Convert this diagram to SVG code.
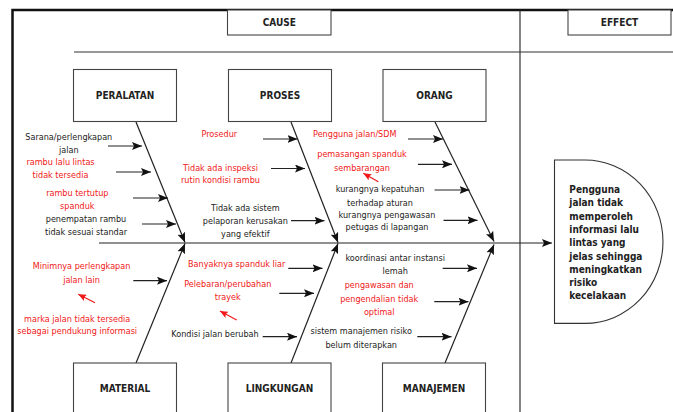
<svg xmlns="http://www.w3.org/2000/svg" width="673" height="412" viewBox="0 0 673 412">
<style>
text{font-family:"DejaVu Sans Condensed","DejaVu Sans",sans-serif}
.t{font-size:9px;fill:#222;text-anchor:middle}
.r{font-size:9px;fill:#f01818;text-anchor:middle}
.h{font-size:10px;font-weight:bold;fill:#222;text-anchor:middle}
.e{font-size:10px;font-weight:bold;fill:#222}
.box{fill:#fff;stroke:#444;stroke-width:1.1}
.ln{stroke:#333;stroke-width:1.2;fill:none}
.ar{stroke:#222;stroke-width:1.2;fill:none;marker-end:url(#ah)}
.ra{stroke:#f01818;stroke-width:1.2;fill:none;marker-end:url(#rh)}
</style>
<defs>
<marker id="ah" markerUnits="userSpaceOnUse" markerWidth="10" markerHeight="8" refX="10" refY="4" orient="auto">
<path d="M0,0 L10,4 L0,8 L2,4 z" fill="#111"/>
</marker>
<marker id="rh" markerUnits="userSpaceOnUse" markerWidth="8" markerHeight="7" refX="8" refY="3.5" orient="auto">
<path d="M0,0 L8,3.5 L0,7 L1.5,3.5 z" fill="#f01818"/>
</marker>
</defs>
<rect width="673" height="412" fill="#fff"/>
<g id="frame">
<path d="M12.5,412 L12.5,10 L673,10" fill="none" stroke="#111" stroke-width="2.5"/>
<line x1="520" y1="10" x2="520" y2="412" class="ln"/>
<line x1="74" y1="52" x2="673" y2="52" class="ln"/>
</g>
<g id="cause"><rect x="227.5" y="10" width="103.5" height="25" class="box"/><text x="279.3" y="26" class="h">CAUSE</text></g>
<g id="effect-header"><rect x="568" y="10" width="103" height="25" class="box"/><text x="619.5" y="26" class="h">EFFECT</text></g>
<g id="connectors">
<line x1="99" y1="243" x2="552" y2="243" class="ar"/>
<line x1="136" y1="122" x2="185" y2="242.5" class="ar"/>
<line x1="291" y1="122" x2="338" y2="242.5" class="ar"/>
<line x1="435" y1="122" x2="494" y2="241.5" class="ar"/>
<line x1="136" y1="363" x2="185" y2="243.5" class="ar"/>
<line x1="291" y1="363" x2="338" y2="243.5" class="ar"/>
<line x1="445" y1="363" x2="494" y2="244.5" class="ar"/>
<line x1="108" y1="146" x2="142" y2="146" class="ar"/>
<line x1="116" y1="172" x2="151" y2="172" class="ar"/>
<line x1="133" y1="198" x2="168" y2="198" class="ar"/>
<line x1="142" y1="224" x2="176" y2="224" class="ar"/>
<line x1="263" y1="139" x2="297.5" y2="139" class="ar"/>
<line x1="271" y1="168.5" x2="305" y2="168.5" class="ar"/>
<line x1="291" y1="220.7" x2="324.5" y2="220.7" class="ar"/>
<line x1="408" y1="139" x2="443" y2="139" class="ar"/>
<line x1="418" y1="164.3" x2="452" y2="164.3" class="ar"/>
<line x1="434.5" y1="190" x2="469.5" y2="190" class="ar"/>
<line x1="443.5" y1="220.3" x2="477.5" y2="220.3" class="ar"/>
<line x1="133.3" y1="280.7" x2="167" y2="280.7" class="ar"/>
<line x1="288.3" y1="268.3" x2="322.5" y2="268.3" class="ar"/>
<line x1="279.3" y1="293.3" x2="314" y2="293.3" class="ar"/>
<line x1="262.7" y1="336.7" x2="297" y2="336.7" class="ar"/>
<line x1="442.7" y1="268.3" x2="477" y2="268.3" class="ar"/>
<line x1="434.3" y1="301.7" x2="468.5" y2="301.7" class="ar"/>
<line x1="417.3" y1="336.7" x2="451.5" y2="336.7" class="ar"/>
<line x1="378.3" y1="181.7" x2="363.3" y2="173.3" class="ra"/>
<line x1="95" y1="302.7" x2="78.3" y2="294.3" class="ra"/>
<line x1="236.7" y1="320" x2="220" y2="311" class="ra"/>
</g>
<g id="peralatan">
<rect x="73.5" y="69.5" width="103" height="52" class="box"/><text x="125" y="99" class="h">PERALATAN</text>
<text x="68.8" y="140" class="t">Sarana/perlengkapan</text><text x="68.8" y="152.5" class="t">jalan</text>
<text x="60.5" y="165" class="r">rambu lalu lintas</text><text x="60.5" y="178" class="r">tidak tersedia</text>
<text x="77.3" y="196" class="r">rambu tertutup</text><text x="77.3" y="208.5" class="r">spanduk</text>
<text x="86" y="222" class="t">penempatan rambu</text><text x="86" y="235" class="t">tidak sesuai standar</text>
</g>
<g id="proses">
<rect x="228.5" y="69.5" width="103" height="52" class="box"/><text x="280" y="99" class="h">PROSES</text>
<text x="219.3" y="137" class="r">Prosedur</text>
<text x="220.5" y="171" class="r">Tidak ada inspeksi</text><text x="220.5" y="182.5" class="r">rutin kondisi rambu</text>
<text x="245.3" y="211" class="t">Tidak ada sistem</text><text x="245.3" y="224" class="t">pelaporan kerusakan</text><text x="245.3" y="236.5" class="t">yang efektif</text>
</g>
<g id="orang">
<rect x="383" y="69.5" width="103" height="52" class="box"/><text x="434.5" y="99" class="h">ORANG</text>
<text x="354.8" y="137" class="r">Pengguna jalan/SDM</text>
<text x="362" y="157" class="r">pemasangan spanduk</text><text x="362" y="171" class="r">sembarangan</text>
<text x="380" y="191.5" class="t">kurangnya kepatuhan</text><text x="380" y="205.5" class="t">terhadap aturan</text>
<text x="387" y="217.5" class="t">kurangnya pengawasan</text><text x="387" y="230" class="t">petugas di lapangan</text>
</g>
<g id="material">
<rect x="73.5" y="363" width="103" height="53" class="box"/><text x="125" y="392" class="h">MATERIAL</text>
<text x="81.5" y="269" class="r">Minimnya perlengkapan</text><text x="81.5" y="282.5" class="r">jalan lain</text>
<text x="77.2" y="321.5" class="r">marka jalan tidak tersedia</text><text x="77.2" y="334" class="r">sebagai pendukung informasi</text>
</g>
<g id="lingkungan">
<rect x="228" y="363" width="103" height="53" class="box"/><text x="279.5" y="392" class="h">LINGKUNGAN</text>
<text x="236.7" y="267" class="r">Banyaknya spanduk liar</text>
<text x="227.8" y="286.5" class="r">Pelebaran/perubahan</text><text x="227.8" y="300" class="r">trayek</text>
<text x="215" y="336.5" class="t">Kondisi jalan berubah</text>
</g>
<g id="manajemen">
<rect x="382.5" y="363" width="103" height="53" class="box"/><text x="434" y="392" class="h">MANAJEMEN</text>
<text x="395.2" y="260.5" class="t">koordinasi antar instansi</text><text x="395.2" y="274" class="t">lemah</text>
<text x="379.2" y="288" class="r">pengawasan dan</text><text x="379.2" y="302" class="r">pengendalian tidak</text><text x="379.2" y="315" class="r">optimal</text>
<text x="361.2" y="334" class="t">sistem manajemen risiko</text><text x="361.2" y="347.5" class="t">belum diterapkan</text>
</g>
<g id="effect">
<path d="M554.5,160 L585,160 A78,81.7 0 0 1 585,323.4 L554.5,323.4 Z" fill="#fff" stroke="#333" stroke-width="1.1"/>
<text class="e"><tspan x="569.3" y="193">Pengguna</tspan><tspan x="569.3" y="206.3">jalan tidak</tspan><tspan x="569.3" y="219.6">memperoleh</tspan><tspan x="569.3" y="232.9">informasi lalu</tspan><tspan x="569.3" y="246.2">lintas yang</tspan><tspan x="569.3" y="259.5">jelas sehingga</tspan><tspan x="569.3" y="272.8">meningkatkan</tspan><tspan x="569.3" y="286.1">risiko</tspan><tspan x="569.3" y="299.4">kecelakaan</tspan></text>
</g>
</svg>
